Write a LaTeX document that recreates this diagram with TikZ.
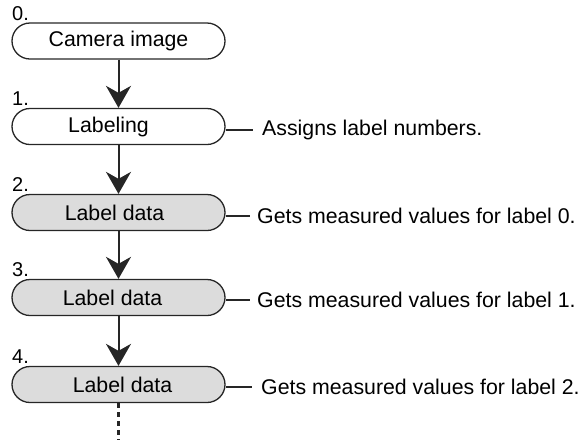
\documentclass[tikz,border=0pt]{standalone}
\usepackage{fontspec}
\setmainfont{Liberation Sans}
\usetikzlibrary{arrows.meta}
\definecolor{boxgray}{HTML}{DCDCDC}
\tikzset{
  flowbox/.style={draw=black!85, line width=1.3pt, rounded corners=18pt,
    minimum width=213pt, minimum height=36pt, inner sep=0pt,
    font=\fontsize{21.3}{24}\selectfont},
  graybox/.style={flowbox, fill=boxgray},
  numlabel/.style={anchor=south west, inner sep=0pt, font=\fontsize{20}{24}\selectfont},
  desc/.style={anchor=west, inner xsep=9pt, inner ysep=0pt, font=\fontsize{21.3}{24}\selectfont},
  arrowline/.style={line width=2pt, black!85, -{Stealth[length=22pt,width=25pt,inset=7pt]}},
  connline/.style={line width=1.6pt, black!85},
  dashline/.style={line width=2.6pt, black!85, dash pattern=on 5pt off 4pt}
}
\begin{document}
\begin{tikzpicture}[x=1pt,y=-1pt]
\useasboundingbox (0,0) rectangle (583,440);
\node[flowbox] (b0) at (118.5,41) {Camera image};
\node[flowbox] (b1) at (118.5,126.5) {\hspace*{-20pt}Labeling};
\node[graybox] (b2) at (118.5,212.5) {\hspace*{-8pt}Label data};
\node[graybox] (b3) at (118.5,297.5) {\hspace*{-12pt}Label data};
\node[graybox] (b4) at (118.5,384.5) {\hspace*{8pt}Label data};
\node[numlabel] (n0) at (12,21) {0.};
\node[numlabel] (n1) at (12,106) {1.};
\node[numlabel] (n2) at (12,192) {2.};
\node[numlabel] (n3) at (12,277) {3.};
\node[numlabel] (n4) at (12,364) {4.};
\node[desc] (t1) at (253,130) {Assigns label numbers.};
\node[desc, inner xsep=7pt] (t2) at (250,216) {Gets measured values for label 0.};
\node[desc, inner xsep=7pt] (t3) at (250,300) {Gets measured values for label 1.};
\node[desc, inner xsep=9pt] (t4) at (252,387) {Gets measured values for label 2.};
\coordinate (end) at (118.5,440);
\draw[arrowline] (b0.south) -- (b1.north);
\draw[arrowline] (b1.south) -- (b2.north);
\draw[arrowline] (b2.south) -- (b3.north);
\draw[arrowline] (b3.south) -- (b4.north);
\draw[connline] (b1.east |- t1.west) -- (t1.west);
\draw[connline] (b2.east |- t2.west) -- (t2.west);
\draw[connline] (b3.east |- t3.west) -- (t3.west);
\draw[connline] (b4.east |- t4.west) -- (t4.west);
\draw[dashline] (b4.south) -- (end);
\end{tikzpicture}
\end{document}
